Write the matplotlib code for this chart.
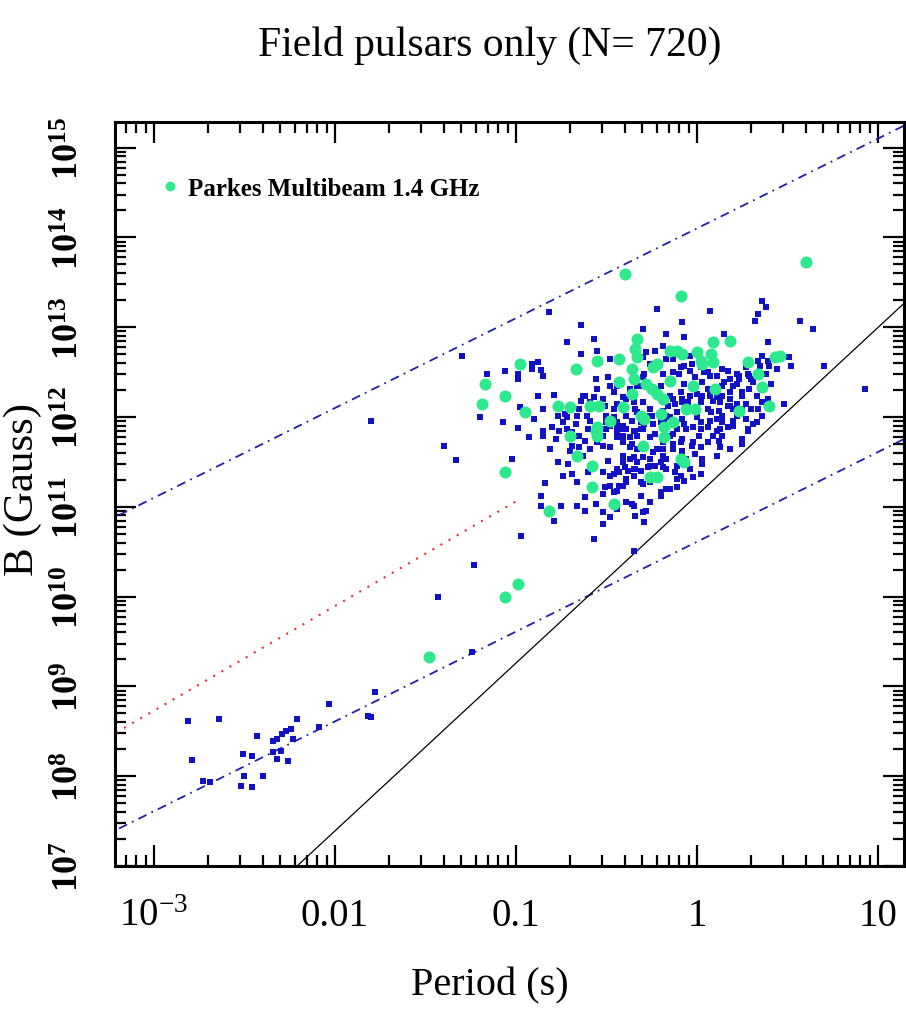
import numpy as np
import matplotlib
matplotlib.use('Agg')
import matplotlib.pyplot as plt
from matplotlib.ticker import LogLocator, NullFormatter
from matplotlib.lines import Line2D

plt.rcParams['font.family'] = ['Liberation Serif', 'DejaVu Serif']
plt.rcParams['mathtext.fontset'] = 'custom'
plt.rcParams['mathtext.rm'] = 'Liberation Serif'
plt.rcParams['mathtext.it'] = 'Liberation Serif:italic'
plt.rcParams['mathtext.bf'] = 'Liberation Serif:bold'

# ---- data (log10 of period in s, log10 of B in Gauss) ----
# recycled / millisecond pulsars, lower left
msp_logP = [-2.81, -2.64, -2.79, -2.73, -2.69, -2.52, -2.50, -2.46, -2.51, -2.46,
            -2.43, -2.40, -2.34, -2.32, -2.34, -2.32, -2.30, -2.29, -2.27, -2.24,
            -2.26, -2.23, -2.21, -2.09, -2.03, -1.82, -1.80, -1.78]
msp_logB = [8.61, 8.64, 8.18, 7.95, 7.94, 7.89, 8.00, 7.88, 8.25, 8.22,
            8.45, 8.00, 8.39, 8.41, 8.27, 8.19, 8.28, 8.47, 8.50, 8.53,
            8.17, 8.41, 8.64, 8.55, 8.80, 8.67, 8.66, 8.94]

# ordinary field pulsars
psr_logP = [-1.80, -1.30, -1.40, -1.33, -1.23, -1.43, -1.24, -1.20, -1.16, -1.06,
            -0.99, -0.99, -1.07, -0.98, -0.99, -0.93, -1.02, -0.97, -0.91, -0.91,
            -0.88, -0.86, -0.85, -0.82, -0.90, -0.85, -0.80, -0.79, -0.76, -0.84,
            -0.86, -0.86, -0.79, -0.75, -0.73, -0.72, -0.72, -0.66, -0.64, -0.64,
            -0.64, -0.62, -0.57, -0.55, -0.55, -0.56, -0.57, -0.52, -0.51, -0.49,
            -0.48, -0.48, -0.44, -0.46, -0.41, -0.39, -0.37, -0.33, -0.35, -0.44,
            -0.46, -0.39, -0.33, -0.59, -0.50, -0.48, -0.44, -0.36, -0.70, -0.71,
            -0.69, -0.65, -0.60, -0.62, -0.60, -0.50, -0.48, -0.49, -0.46, -0.52,
            -0.51, -0.48, -0.44, -0.62, -0.66, -0.62, -0.52, -0.48, -0.35, -0.39,
            -0.41, -0.38, -0.40, -0.43, -0.35, -0.41, -0.35, -0.41, -0.44, -0.37,
            -0.33, -0.44, -0.41, -0.35, -0.37, -0.57, -0.35, -0.22, 0.07, -0.08,
            0.36, 0.34, 0.32, 0.38, 0.39, 0.57, 0.64, 0.70, 0.93, 0.48,
            -0.30, -0.17, -0.07, 0.15, -0.19, -0.28, -0.23, -0.04, -0.30, -0.07,
            -0.03, -0.09, -0.13, -0.10, -0.19, -0.29, -0.30, 0.06, 0.07, 0.14,
            0.17, 0.22, 0.23, 0.18, 0.15, 0.14, 0.22, 0.28, 0.30, 0.31,
            0.34, 0.35, 0.36, 0.39, 0.40, 0.44, 0.51, 0.52, 0.36, 0.39,
            0.25, 0.27, 0.22, 0.18, 0.14, 0.13, 0.09, 0.06, 0.07, 0.03,
            0.00, 0.02, -0.04, -0.05, -0.09, -0.08, -0.13, -0.12, -0.16, -0.11,
            -0.15, -0.19, -0.26, -0.25, -0.30, -0.34, -0.31, 0.06, 0.08, 0.12,
            0.14, 0.18, 0.27, 0.31, 0.07, 0.00, 0.02, -0.08, -0.07, -0.18,
            -0.24, -0.29, 0.20, 0.14, -0.04, 0.02, -0.26, -0.17, -0.13, 0.04,
            -0.34, -0.31, -0.36, -0.26, -0.23, -0.13, -0.08, -0.06, -0.02, 0.02,
            0.06, 0.11, 0.17, 0.20, 0.28, 0.25, 0.25, 0.12, 0.13, 0.02,
            -0.03, -0.01, -0.08, -0.13, -0.19, -0.19, -0.24, -0.26, -0.30, -0.34,
            -0.31, -0.27, -0.23, -0.19, -0.12, -0.09, 0.02, -0.07, -0.30, -0.20,
            -0.17, -0.11, 0.03, -0.36, -0.30, -0.28, -0.34, -0.29]
psr_logB = [11.96, 12.68, 11.68, 11.52, 10.35, 9.99, 9.38, 12.00, 12.48, 12.51,
            12.48, 12.42, 11.94, 12.11, 11.88, 11.78, 11.53, 10.67, 12.59, 12.53,
            12.61, 12.52, 12.46, 13.17, 11.98, 11.84, 11.89, 12.24, 11.84, 11.27,
            11.12, 11.01, 10.84, 11.01, 12.03, 12.00, 12.84, 12.01, 13.02, 12.70,
            12.18, 12.23, 12.87, 12.73, 12.31, 12.42, 12.22, 12.20, 12.12, 12.45,
            12.35, 12.65, 12.35, 12.28, 12.22, 12.20, 12.31, 12.35, 12.17, 12.14,
            12.00, 12.01, 12.06, 11.96, 11.94, 11.90, 11.94, 11.96, 11.62, 11.48,
            11.37, 11.67, 11.39, 11.73, 11.87, 11.87, 11.67, 11.51, 11.37, 11.14,
            11.22, 11.23, 11.18, 11.11, 11.01, 10.95, 10.81, 10.89, 11.01, 11.31,
            11.23, 11.40, 11.44, 11.39, 11.42, 11.57, 11.55, 11.72, 11.78, 11.67,
            11.64, 11.90, 11.87, 11.84, 11.78, 10.64, 10.51, 13.20, 13.18, 13.06,
            13.29, 13.15, 13.07, 13.22, 12.84, 13.07, 12.98, 12.57, 12.31, 12.14,
            12.98, 12.92, 12.89, 12.92, 12.79, 12.72, 12.73, 12.68, 12.67, 12.57,
            12.59, 12.56, 12.50, 12.48, 12.48, 12.48, 12.45, 12.50, 12.46, 12.53,
            12.51, 12.48, 12.42, 12.42, 12.39, 12.35, 12.37, 12.48, 12.42, 12.39,
            12.62, 12.57, 12.68, 12.62, 12.57, 12.53, 12.67, 12.57, 12.01, 12.20,
            12.23, 12.14, 12.14, 12.28, 12.23, 12.17, 12.18, 12.31, 12.23, 12.39,
            12.26, 12.20, 12.23, 12.17, 12.28, 12.20, 12.20, 12.14, 12.12, 12.06,
            12.00, 12.07, 12.09, 12.01, 12.17, 12.09, 12.01, 12.09, 12.06, 12.07,
            12.01, 12.12, 11.98, 11.92, 11.96, 12.00, 11.94, 11.98, 11.92, 11.94,
            11.92, 11.92, 11.96, 11.94, 12.51, 12.56, 12.59, 12.65, 12.65, 12.50,
            11.84, 11.87, 11.70, 11.78, 11.81, 11.81, 11.76, 11.87, 11.89, 11.87,
            11.89, 11.84, 11.89, 11.90, 11.84, 11.76, 11.70, 11.73, 11.67, 11.67,
            11.68, 11.59, 11.62, 11.70, 11.64, 11.57, 11.61, 11.53, 11.55, 11.42,
            11.40, 11.44, 11.45, 11.44, 11.39, 11.34, 11.37, 11.29, 11.25, 11.16,
            11.20, 11.22, 11.48, 11.03, 10.94, 10.95, 10.90, 10.83]

# more field pulsars in the crowded core
core_logP = [-0.41, -0.44, -0.41, -0.39, -0.31, -0.30, -0.33, -0.26, -0.20, -0.17,
             -0.08, -0.04, 0.02, 0.03, 0.07, 0.11, 0.17, 0.18, 0.20, 0.23,
             0.25, 0.25, 0.28, 0.01, -0.02, 0.06, 0.09, 0.13, 0.11, -0.11,
             -0.15, -0.09, -0.13, -0.19, -0.22, -0.17, -0.20, -0.26, -0.33, -0.37,
             -0.41, -0.44, -0.48, -0.52, -0.35, -0.39, -0.43, -0.46, -0.31, -0.26,
             -0.22, -0.17, -0.11, -0.06, -0.04, -0.63, -0.59, -0.65, -0.61, -0.67,
             -0.74, -0.72, -0.69, -0.65, -0.69, -0.63, -0.59, -0.55, -0.52, -0.52,
             -0.50, -0.46, -0.31, -0.26, -0.20, -0.15, -0.07, -0.01, 0.11, 0.27,
             0.29, 0.38, 0.41, 0.29, 0.33, 0.36, 0.30, 0.20, 0.22, 0.34,
             0.33, 0.14, 0.18, 0.11, 0.03, -0.02, -0.11, -0.15, -0.20, -0.26,
             -0.31, -0.39, -0.44, -0.52, -0.56, -0.66, -0.74, -0.77, -0.81, -0.85,
             -0.78, -0.77, -0.85, -0.88]
core_logB = [11.90, 11.83, 11.79, 11.87, 11.94, 11.87, 11.79, 12.01, 11.94, 12.01,
             12.17, 12.09, 12.17, 12.23, 12.28, 12.22, 12.12, 12.20, 12.35, 12.46,
             12.28, 12.09, 11.87, 11.79, 11.72, 11.72, 11.79, 11.87, 11.98, 11.87,
             11.79, 11.72, 11.64, 11.72, 11.64, 11.53, 11.50, 11.45, 11.50, 11.53,
             11.50, 11.42, 11.34, 11.39, 11.34, 11.28, 11.23, 11.16, 11.28, 11.28,
             11.34, 11.42, 11.45, 11.53, 11.42, 12.23, 12.17, 12.09, 12.01, 11.92,
             11.94, 11.87, 11.83, 11.79, 11.68, 11.57, 11.64, 11.72, 11.79, 11.68,
             12.01, 12.09, 12.35, 12.31, 12.35, 12.23, 12.37, 12.45, 12.46, 12.56,
             12.46, 12.48, 12.37, 12.31, 12.23, 12.17, 12.09, 12.09, 12.01, 12.09,
             11.94, 11.79, 11.64, 11.57, 11.53, 11.33, 11.31, 11.20, 11.12, 11.05,
             11.12, 11.05, 10.98, 10.94, 11.03, 11.28, 11.34, 11.50, 11.64, 11.79,
             11.76, 12.01, 12.09, 12.23]

# Parkes Multibeam 1.4 GHz discoveries
pmb_logP = [-0.40, -0.09, 0.60, 0.18, 0.09, 0.43, 0.28, 0.34, 0.36, 0.40,
            0.23, -0.33, -0.34, -0.33, -0.24, -0.22, -0.15, -0.11, -0.08, 0.00,
            0.02, 0.03, 0.08, 0.09, -0.36, -0.35, -0.28, -0.25, -0.22, -0.19,
            -0.15, -0.02, 0.10, -0.06, -0.01, -0.20, -0.13, -0.36, -0.98, -1.17,
            -1.19, -1.06, -0.95, -0.67, -0.77, -0.70, -0.59, -0.54, -0.55, -0.43,
            -0.43, -0.41, -0.48, -0.55, -0.55, -0.70, -0.66, -0.58, -0.58, -1.06,
            -0.82, -0.46, -0.26, -0.22, -0.09, -0.07, -0.30, -0.18, -0.18, -0.31,
            -0.29, -1.06, -0.99, -1.48, -0.56, 0.46]
pmb_logB = [13.59, 13.35, 13.73, 12.85, 12.84, 12.67, 12.61, 12.48, 12.33, 12.12,
            12.07, 12.87, 12.76, 12.67, 12.56, 12.59, 12.73, 12.73, 12.70, 12.72,
            12.62, 12.59, 12.70, 12.61, 12.53, 12.42, 12.37, 12.31, 12.26, 12.20,
            12.40, 12.35, 12.31, 12.09, 12.09, 12.03, 11.94, 12.26, 12.59, 12.37,
            12.14, 12.23, 12.06, 12.53, 12.12, 12.11, 12.12, 12.12, 12.62, 12.65,
            12.39, 12.11, 11.96, 11.89, 11.79, 11.79, 11.57, 11.45, 11.22, 11.39,
            10.95, 11.03, 11.33, 11.33, 11.53, 11.50, 11.68, 11.89, 11.78, 12.01,
            11.98, 10.00, 10.14, 9.33, 11.84, 12.68]

# reference lines (end points, log10 P and log10 B)
age_1e3yr_logP = [-3.3, 1.2]
age_1e3yr_logB = [10.80, 15.30]
age_1e10yr_logP = [-3.3, 1.2]
age_1e10yr_logB = [7.31, 11.81]
spinup_logP = [-3.3, -1.0]
spinup_logB = [8.38, 11.06]
death_logP = [-2.3, 1.2]
death_logB = [6.83, 13.37]

xtick_vals = [1e-3, 1e-2, 1e-1, 1, 10]
xtick_labels = [r'$10^{-3}$', '0.01', '0.1', '1', '10']
ytick_vals = [1e7, 1e8, 1e9, 1e10, 1e11, 1e12, 1e13, 1e14, 1e15]
ytick_labels = [r'$\mathbf{10^{%d}}$' % k for k in range(7, 16)]

TITLE = 'Field pulsars only (N= 720)'
XLABEL = 'Period (s)'
YLABEL = 'B (Gauss)'
LEGEND = 'Parkes Multibeam 1.4 GHz'

blue = '#1212c4'
green = '#2ee88e'

fig = plt.figure(figsize=(9.06, 10.12), dpi=100)
ax = fig.add_axes([115 / 906, 1 - 867 / 1012, 789 / 906, 744 / 1012])
ax.set_xscale('log')
ax.set_yscale('log')
ax.set_xlim(10 ** -3.215, 10 ** 1.144)
ax.set_ylim(1e7, 10 ** 15.285)

def pw(v):
    return 10 ** np.asarray(v)

ax.plot(pw(age_1e3yr_logP), pw(age_1e3yr_logB), color='#2020a8', lw=1.3,
        ls=(0, (5, 3, 1, 3)))
ax.plot(pw(age_1e10yr_logP), pw(age_1e10yr_logB), color='#2020a8', lw=1.3,
        ls=(0, (5, 3, 1, 3)))
ax.plot(pw(spinup_logP), pw(spinup_logB), color='#e03030', lw=1.5,
        ls=(0, (1, 3.5)))
ax.plot(pw(death_logP), pw(death_logB), color='black', lw=0.9)

for lp, lb in ((msp_logP, msp_logB), (psr_logP, psr_logB), (core_logP, core_logB)):
    ax.scatter(pw(lp), pw(lb), s=24, marker='s', color=blue, lw=0, zorder=3)
ax.scatter(pw(pmb_logP), pw(pmb_logB), s=75, marker='o', color=green,
           lw=0, zorder=4)

leg_handle = Line2D([], [], ls='none', marker='o', ms=7, color=green, mec='none')
ax.legend([leg_handle], [LEGEND], loc='upper left', bbox_to_anchor=(0.044, 0.943),
          frameon=False, handlelength=0.6, handletextpad=0.45, borderpad=0,
          prop={'family': 'Liberation Serif', 'weight': 'bold', 'size': 18})

ax.xaxis.set_minor_locator(LogLocator(base=10, subs=np.arange(2, 10), numticks=20))
ax.yaxis.set_minor_locator(LogLocator(base=10, subs=np.arange(2, 10), numticks=20))
ax.set_xticks(xtick_vals, xtick_labels)
ax.set_yticks(ytick_vals, ytick_labels)
ax.xaxis.set_minor_formatter(NullFormatter())
ax.yaxis.set_minor_formatter(NullFormatter())

ax.tick_params(which='both', direction='in', top=True, right=True, width=1.6)
ax.tick_params(which='major', length=15)
ax.tick_params(which='minor', length=8)
ax.tick_params(axis='x', which='major', labelsize=28, pad=22)
ax.tick_params(axis='y', which='major', labelsize=26, pad=20, labelrotation=90)
for lab in ax.get_yticklabels():
    lab.set_va('center')
for sp in ax.spines.values():
    sp.set_linewidth(2.2)

ax.set_xlabel(XLABEL, fontsize=29)
ax.xaxis.set_label_coords(0.475, -0.135)
ax.set_ylabel(YLABEL, fontsize=31)
ax.yaxis.set_label_coords(-0.092, 0.507)

fig.text(490 / 906, 1 - 45 / 1012, TITLE, ha='center', va='center', fontsize=30)

fig.savefig('out.png', dpi=100)
